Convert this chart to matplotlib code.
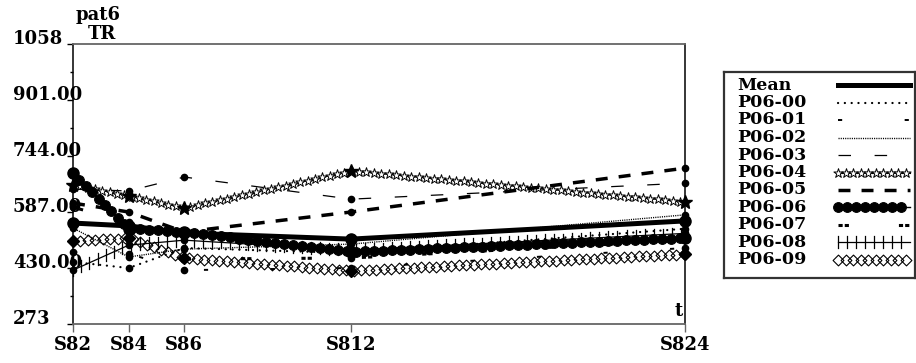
import numpy as np
import matplotlib
matplotlib.use("Agg")
import matplotlib.pyplot as plt
import matplotlib.colors as mcolors
from matplotlib import patheffects
from matplotlib.markers import MarkerStyle
from matplotlib.path import Path
from matplotlib.transforms import Affine2D, IdentityTransform

plt.rcParams["font.family"] = "DejaVu Serif"
plt.rcParams["font.weight"] = "bold"
plt.rcParams["lines.scale_dashes"] = False

# sampling times (numeric position) and their names
t = [2, 4, 6, 12, 24]
t_labels = ["S82", "S84", "S86", "S812", "S824"]
y_ticks = [273, 430, 587, 744, 901, 1058]
y_tick_labels = ["273", "430.00", "587.00", "744.00", "901.00", "1058"]
y_minor = [351.5, 508.5, 665.5, 822.5, 979.5]

names = ["Mean", "P06-00", "P06-01", "P06-02", "P06-03", "P06-04",
         "P06-05", "P06-06", "P06-07", "P06-08", "P06-09"]
mean = [556, 548, 528, 511, 562]
p00 = [447, 430, 486, 472, 540]
p01 = [475, 470, 424, 430, 486]
p02 = [542, 461, 483, 497, 579]
p03 = [651, 646, 685, 623, 668]
p04 = [663, 632, 598, 702, 615]
p05 = [612, 587, 531, 587, 710]
p06 = [696, 540, 531, 475, 514]
p07 = [600, 560, 455, 458, 508]
p08 = [424, 494, 508, 480, 527]
p09 = [506, 514, 458, 422, 469]
values = [mean, p00, p01, p02, p03, p04, p05, p06, p07, p08, p09]


class MarkerTrail(patheffects.AbstractPathEffect):
    """repeat a marker along the drawn path (gnuplot pattern lines)"""
    def __init__(self, marker, size, step, face=None, lw=0.8):
        super().__init__()
        self.marker = MarkerStyle(marker)
        self.size = size
        self.step = step
        self.face = None if face is None else mcolors.to_rgba(face)
        self.lw = lw

    def draw_path(self, renderer, gc, tpath, affine, rgbFace=None):
        xy = affine.transform(tpath.vertices)
        dist = np.r_[0, np.cumsum(np.hypot(*np.diff(xy, axis=0).T))]
        s = np.arange(0, dist[-1] + 1e-6, renderer.points_to_pixels(self.step))
        pts = np.column_stack([np.interp(s, dist, xy[:, 0]),
                               np.interp(s, dist, xy[:, 1])])
        mtrans = self.marker.get_transform() + Affine2D().scale(
            renderer.points_to_pixels(self.size))
        gc0 = renderer.new_gc()
        gc0.copy_properties(gc)
        gc0.set_dashes(0, None)
        gc0.set_linewidth(self.lw)
        gc0.set_foreground("black")
        renderer.draw_markers(gc0, self.marker.get_path(), mtrans, Path(pts),
                              IdentityTransform(), self.face)
        gc0.restore()


def line_style(name):
    st = {
        "Mean": dict(lw=3.6),
        "P06-00": dict(lw=1.6, ls=(0, (0.1, 4.8)), dash_capstyle="round"),
        "P06-01": dict(lw=1.4, ls=(0, (3, 45))),
        "P06-02": dict(lw=1.0, ls=(0, (0.8, 0.8))),
        "P06-03": dict(lw=0.9, ls=(0, (9, 17))),
        "P06-04": dict(lw=0.8, path_effects=[patheffects.Normal(),
                                             MarkerTrail("*", 7, 5.4, face="white", lw=0.7)]),
        "P06-05": dict(lw=2.5, ls=(0, (8.6, 8))),
        "P06-06": dict(lw=1.0, path_effects=[patheffects.Normal(),
                                             MarkerTrail("o", 7.0, 6.5, face="black")]),
        "P06-07": dict(lw=2.2, ls=(0, (3, 1.5, 3, 36))),
        "P06-08": dict(lw=0.9, path_effects=[patheffects.Normal(),
                                             MarkerTrail("|", 8.6, 6.5, lw=0.9)]),
        "P06-09": dict(lw=0.8, path_effects=[MarkerTrail("D", 5.5, 5.4, lw=0.8)]),
    }
    return st[name]


point_style = {"Mean": ("o", 8), "P06-04": ("*", 10), "P06-06": ("o", 8),
               "P06-09": ("D", 6)}

fig = plt.figure(figsize=(9.16, 3.63), dpi=100)
ax = fig.add_axes([73 / 916, 39 / 363, 612 / 916, 280 / 363])

order = list(range(1, len(names))) + [0]
for i in order:
    nm = names[i]
    z = 5 if nm == "Mean" else 3
    ax.plot(t, values[i], color="black", clip_on=False, zorder=z, **line_style(nm))
    mk, ms = point_style.get(nm, ("o", 4.5))
    ax.plot(t, values[i], ls="none", marker=mk, ms=ms, color="black",
            clip_on=False, zorder=z)

ax.set_xlim(2, 24)
ax.set_ylim(273, 1058)
ax.set_xticks(t, t_labels)
ax.set_yticks(y_ticks, y_tick_labels)
ax.set_yticks(y_minor, minor=True)
ax.tick_params(axis="y", which="major", length=4.3, width=1, pad=38.9, labelsize=13)
ax.tick_params(axis="y", which="minor", length=2.2, width=1)
ax.tick_params(axis="x", length=6, width=1, color="#666666", pad=3, labelsize=13)
plt.setp(ax.get_yticklabels(), ha="left", va="baseline")
for side in ["top", "bottom"]:
    ax.spines[side].set_color("#666666")
    ax.spines[side].set_linewidth(1.3)
for side in ["left", "right"]:
    ax.spines[side].set_linewidth(1.1)

ax.text(0.997, 0.015, "t", transform=ax.transAxes, ha="right", va="bottom", fontsize=13)
fig.text(98 / 916, 1 - 15 / 363, "pat6", ha="center", va="center", fontsize=13)
fig.text(102 / 916, 1 - 34 / 363, "TR", ha="center", va="center", fontsize=13)

# key box on the right
lg = fig.add_axes([724 / 916, 85 / 363, 191 / 916, 206 / 363])
lg.set_xlim(0, 191)
lg.set_ylim(206, 0)
lg.set_xticks([])
lg.set_yticks([])
for sp in lg.spines.values():
    sp.set_linewidth(1.6)
    sp.set_color("#333333")
for i, nm in enumerate(names):
    yy = 13 + 17.5 * i
    lg.text(13, yy, nm, ha="left", va="center", fontsize=12.5)
    lg.plot([114, 186], [yy, yy], color="black", **line_style(nm))

fig.savefig("out.png", dpi=100)
